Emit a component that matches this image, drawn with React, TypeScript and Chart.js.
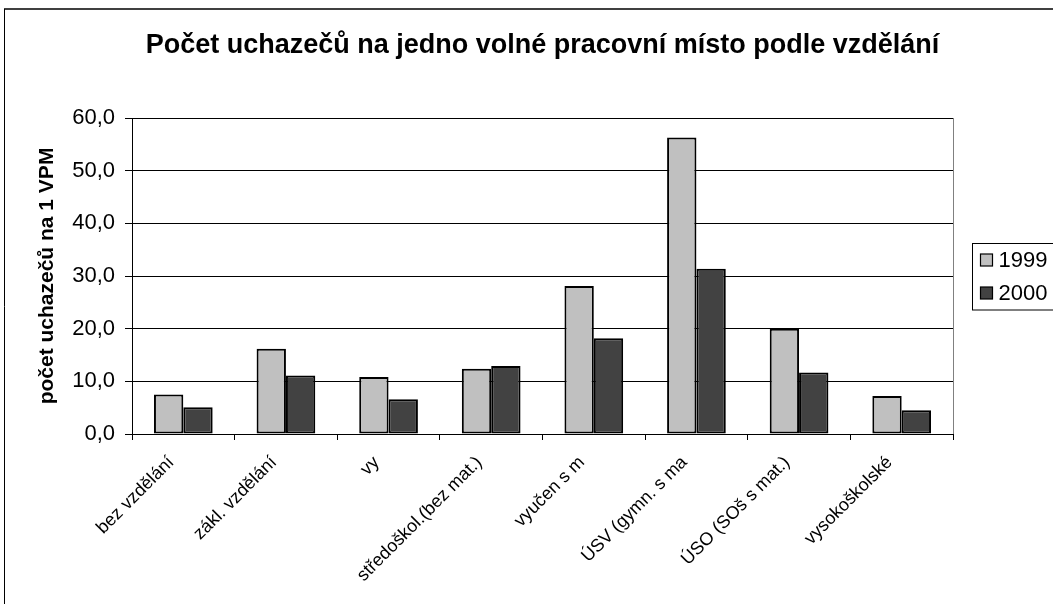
import React, { useEffect, useRef } from 'react';
import { Chart, registerables } from 'chart.js';

Chart.register(...registerables);

const categories = [
  'bez vzdělání',
  'zákl. vzdělání',
  'vy',
  'středoškol.(bez mat.)',
  'vyučen s m',
  'ÚSV (gymn. s ma',
  'ÚSO (SOš s mat.)',
  'vysokoškolské',
];
const seriesNames = ['1999', '2000'];
const values1999 = [7.5, 16.2, 10.8, 12.4, 28.1, 56.3, 20.0, 7.2];
const values2000 = [5.1, 11.1, 6.6, 12.9, 18.2, 31.4, 11.7, 4.5];
const seriesColors = ['#C0C0C0', '#424242'];
const yMin = 0;
const yMax = 60;
const yStep = 10;
const chartTitle = 'Počet uchazečů na jedno volné pracovní místo podle vzdělání';
const yAxisTitle = 'počet uchazečů na 1 VPM';

const FONT = '"Liberation Sans", Arial, sans-serif';

const framePlugin = {
  id: 'framePlugin',
  beforeDraw(chart: any) {
    const ctx = chart.ctx;
    ctx.save();
    ctx.fillStyle = '#ffffff';
    ctx.fillRect(0, 0, chart.width, chart.height);
    ctx.restore();
  },
  afterDraw(chart: any) {
    const { ctx, chartArea } = chart;
    ctx.save();
    // outer chart frame
    ctx.strokeStyle = '#404040';
    ctx.lineWidth = 2;
    ctx.beginPath();
    ctx.moveTo(4, 9);
    ctx.lineTo(chart.width, 9);
    ctx.stroke();
    ctx.lineWidth = 1;
    ctx.strokeStyle = '#000000';
    ctx.beginPath();
    ctx.moveTo(4.5, 9);
    ctx.lineTo(4.5, chart.height);
    ctx.stroke();
    // plot area right border
    const rx = Math.round(chartArea.right) + 0.5;
    ctx.strokeStyle = '#808080';
    ctx.beginPath();
    ctx.moveTo(rx, chartArea.top);
    ctx.lineTo(rx, chartArea.bottom);
    ctx.stroke();
    // legend
    const lx = Math.round(chartArea.right) + 19.5;
    const ly = 243.5;
    ctx.strokeStyle = '#000000';
    ctx.lineWidth = 1;
    ctx.strokeRect(lx, ly, 120, 66.5);
    ctx.font = `22px ${FONT}`;
    ctx.textBaseline = 'middle';
    ctx.textAlign = 'left';
    chart.data.datasets.forEach((ds: any, i: number) => {
      const cy = 260 + i * 33;
      ctx.fillStyle = ds.backgroundColor;
      ctx.fillRect(lx + 8, cy - 6, 12, 12);
      ctx.strokeStyle = '#000000';
      ctx.lineWidth = 1.2;
      ctx.strokeRect(lx + 8, cy - 6, 12, 12);
      ctx.fillStyle = '#000000';
      ctx.fillText(ds.label, lx + 26, cy + 1);
    });
    ctx.restore();
  },
};

export default function App() {
  const canvasRef = useRef<HTMLCanvasElement | null>(null);

  useEffect(() => {
    const canvas = canvasRef.current;
    if (!canvas) return;
    const chart = new Chart(canvas, {
      type: 'bar',
      data: {
        labels: categories,
        datasets: [
          {
            label: seriesNames[0],
            data: values1999,
            backgroundColor: seriesColors[0],
            borderColor: '#000000',
            borderWidth: 2,
            borderSkipped: false,
          },
          {
            label: seriesNames[1],
            data: values2000,
            backgroundColor: seriesColors[1],
            borderColor: '#000000',
            borderWidth: 2,
            borderSkipped: false,
          },
        ],
      },
      options: {
        responsive: false,
        animation: false,
        devicePixelRatio: 1,
        layout: { padding: { top: 20, right: 100, bottom: 0, left: 0 } },
        datasets: {
          bar: { barPercentage: 1, categoryPercentage: 0.572 },
        },
        plugins: {
          legend: { display: false },
          tooltip: { enabled: false },
          title: {
            display: true,
            text: chartTitle,
            fullSize: false,
            color: '#000000',
            font: { family: FONT, size: 27, weight: 'bold' },
            padding: { top: 9, bottom: 56.6 },
          },
        },
        scales: {
          x: {
            afterFit(scale: any) {
              scale.height = 170;
            },
            grid: {
              display: true,
              drawOnChartArea: false,
              drawTicks: true,
              tickLength: 6,
              color: '#000000',
              offset: true,
            },
            border: { display: true, color: '#000000', width: 1 },
            ticks: {
              autoSkip: false,
              minRotation: 45,
              maxRotation: 45,
              padding: 12,
              labelOffset: -12,
              color: '#000000',
              font: { family: FONT, size: 18 },
            },
          },
          y: {
            min: yMin,
            max: yMax,
            afterFit(scale: any) {
              scale.width = 132;
            },
            grid: {
              color: '#000000',
              lineWidth: 1,
              drawTicks: true,
              tickLength: 7,
              tickColor: '#000000',
            },
            border: { display: true, color: '#000000', width: 1 },
            ticks: {
              stepSize: yStep,
              padding: 10,
              color: '#000000',
              font: { family: FONT, size: 22 },
              callback: (v: any) => Number(v).toFixed(1).replace('.', ','),
            },
            title: {
              display: true,
              text: yAxisTitle,
              color: '#000000',
              font: { family: FONT, size: 21, weight: 'bold' },
              padding: { top: 35, bottom: 0 },
            },
          },
        },
      },
      plugins: [framePlugin],
    });
    return () => chart.destroy();
  }, []);

  return (
    <div style={{ position: 'fixed', left: 0, top: 0, width: 1053, height: 604, background: '#fff' }}>
      <canvas ref={canvasRef} width={1053} height={604} style={{ width: 1053, height: 604, display: 'block' }} />
    </div>
  );
}
